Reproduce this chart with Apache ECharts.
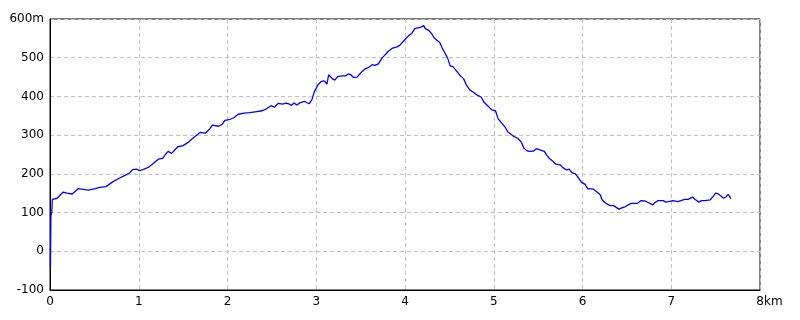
<!DOCTYPE html>
<html>
<head>
<meta charset="utf-8">
<script src="https://cdn.jsdelivr.net/npm/echarts@6/dist/echarts.min.js"></script>
<style>
html,body{margin:0;padding:0;background:#fff;}
#c{width:800px;height:320px;}
</style>
</head>
<body>
<div id="c"></div>
<script>
var distKm = [0.005,0.01,0.02,0.026,0.08,0.11,0.15,0.19,0.21,0.25,0.32,0.375,0.43,0.51,0.56,0.63,0.71,0.79,0.845,0.90,0.93,0.98,1.01,1.06,1.11,1.16,1.22,1.27,1.30,1.33,1.37,1.44,1.50,1.56,1.63,1.69,1.75,1.80,1.83,1.90,1.94,1.97,2.03,2.07,2.12,2.19,2.25,2.33,2.39,2.40,2.44,2.49,2.53,2.57,2.62,2.66,2.69,2.72,2.75,2.78,2.82,2.87,2.92,2.95,2.98,3.02,3.06,3.09,3.12,3.14,3.16,3.18,3.21,3.24,3.29,3.33,3.36,3.39,3.42,3.46,3.51,3.55,3.59,3.63,3.66,3.70,3.74,3.77,3.81,3.86,3.91,3.94,3.98,4.00,4.04,4.08,4.11,4.13,4.18,4.21,4.23,4.27,4.30,4.33,4.35,4.36,4.39,4.42,4.45,4.48,4.51,4.54,4.58,4.62,4.66,4.69,4.73,4.77,4.81,4.86,4.89,4.94,4.98,5.02,5.05,5.09,5.13,5.16,5.19,5.23,5.27,5.31,5.34,5.37,5.40,5.45,5.48,5.52,5.57,5.60,5.63,5.67,5.70,5.75,5.78,5.82,5.85,5.88,5.92,5.95,5.99,6.03,6.06,6.12,6.16,6.20,6.22,6.25,6.31,6.35,6.37,6.41,6.45,6.48,6.54,6.57,6.59,6.62,6.66,6.70,6.74,6.79,6.82,6.85,6.91,6.94,6.97,7.02,7.07,7.11,7.15,7.19,7.24,7.27,7.31,7.34,7.38,7.44,7.47,7.50,7.53,7.56,7.59,7.62,7.64,7.66,7.67];
var elevM = [-40,92,100,134,137,144,153,150,153,148,162,160,158,162,165,167,180,190,196,203,211,212,208,212,217,226,238,240,250,258,253,270,273,282,296,307,305,316,326,323,328,338,341,345,354,357,358,361,363,359,368,376,372,382,380,383,381,377,383,378,384,387,381,391,413,430,439,440,432,456,458,446,442,451,453,453,458,456,449,450,463,471,475,482,480,484,499,506,516,525,528,532,542,546,557,564,575,579,579,583,575,570,562,551,553,545,540,525,512,499,479,477,466,454,446,430,417,411,404,398,385,374,365,363,342,331,320,308,303,296,292,282,266,260,258,259,265,262,258,247,239,232,225,223,216,210,212,203,200,191,178,173,161,161,154,146,133,126,118,118,113,109,113,115,123,124,128,124,131,130,126,120,126,131,131,127,128,131,128,131,134,134,140,134,127,131,131,133,141,150,148,143,137,141,147,141,136];
var xTicks = [0,1,2,3,4,5,6,7,8];
var xUnit = 'km';
var yUnit = 'm';
var yMin = -100, yMax = 600, yStep = 100;

var pts = distKm.map(function(d,i){return [d, elevM[i]];});
var chart = echarts.init(document.getElementById('c'), null, {renderer:'canvas'});
var font = 'DejaVu Sans';
chart.setOption({
  animation:false,
  backgroundColor:'#fff',
  grid:{left:50,right:40,top:19,bottom:30,show:true,borderColor:'#000',borderWidth:1,backgroundColor:'transparent'},
  xAxis:{
    type:'value', min:xTicks[0], max:xTicks[xTicks.length-1], interval:1,
    axisLine:{show:true,onZero:false,lineStyle:{color:'#000',width:1}},
    axisTick:{show:false},
    splitLine:{show:true,lineStyle:{color:'#c0c0c0',type:[4,3],width:1}},
    axisLabel:{
      color:'#000', fontFamily:font, fontSize:12, margin:6,
      showMinLabel:true, showMaxLabel:true,
      formatter:function(v){ return v===xTicks[xTicks.length-1] ? '{k|'+v+xUnit+'}' : String(v); },
      rich:{k:{fontFamily:font,fontSize:12,color:'#000',padding:[0,0,0,19]}}
    }
  },
  yAxis:{
    type:'value', min:yMin, max:yMax, interval:yStep,
    axisLine:{show:true,onZero:false,lineStyle:{color:'#000',width:1}},
    axisTick:{show:false},
    splitLine:{show:true,lineStyle:{color:'#c0c0c0',type:[4,3],width:1}},
    axisLabel:{
      color:'#000', fontFamily:font, fontSize:12, margin:6,
      showMinLabel:true, showMaxLabel:true,
      formatter:function(v){ return v===yMax ? v+yUnit : String(v); }
    }
  },
  series:[{
    type:'line', data:pts, showSymbol:false, symbol:'none',
    lineStyle:{color:'#0000ff',width:1.3}, smooth:false, z:3
  }]
});
</script>
</body>
</html>
